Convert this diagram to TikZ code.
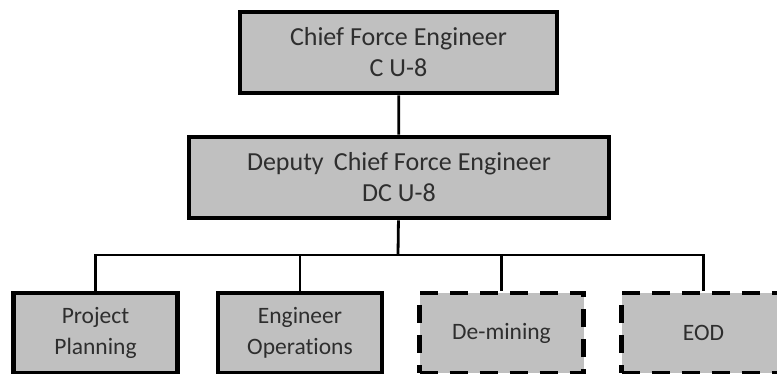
\documentclass[tikz,border=0pt]{standalone}
\usepackage{fontspec}
\setmainfont{Carlito}[Ligatures=NoCommon]
\usepackage{tikz}
\usetikzlibrary{positioning}

\definecolor{boxgray}{HTML}{C0C0C0}
\definecolor{textgray}{HTML}{2E2E2E}

\tikzset{
  post/.style={draw=black,fill=boxgray,line width=4.8pt,text=textgray,
    align=center,inner sep=0pt},
  bigpost/.style={post,minimum height=81pt,font=\fontsize{26}{31}\selectfont},
  unit/.style={post,minimum width=164pt,minimum height=80pt,
    font=\fontsize{23.5}{31}\selectfont},
  planned/.style={unit,dash pattern=on 18pt off 12pt},
  link/.style={line width=2.8pt}
}

\begin{document}
\begin{tikzpicture}[x=1pt,y=-1pt]
      \useasboundingbox (0,0) rectangle (777,374);
      \clip (0,0) rectangle (777,374);

      \node[bigpost,minimum width=317pt] (cfe) at (398.5,52.5) {Chief Force Engineer\\C U-8};
      \node[bigpost,minimum width=420pt] (dcfe) at (399,177.5) {Deputy\, Chief Force Engineer\\DC U-8};

      \node[unit] (pp) at (95.5,333) {Project\\Planning};
      \node[unit] (eo) at (300,333) {Engineer\\Operations};
      \node[planned] (dm) at (501.5,333) {De-mining};
      \node[planned] (eod) at (703.5,333) {EOD};

      \coordinate (bus) at (398,255);

      \path[link]
      (cfe) edge (dcfe)
      (dcfe) edge (bus);
      \draw[link] (bus) -| (pp);
      \draw[link] (bus) -| (eo);
      \draw[link] (bus) -| (dm);
      \draw[link] (bus) -| (eod);
    \end{tikzpicture}
\end{document}
